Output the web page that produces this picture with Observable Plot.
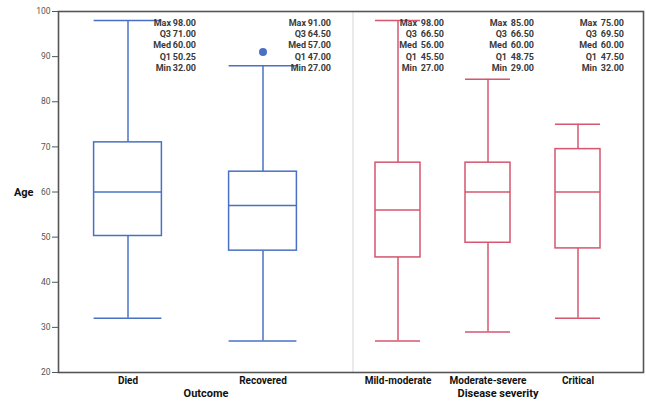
<!DOCTYPE html>
<html>
<head>
<meta charset="utf-8">
<script src="https://cdn.jsdelivr.net/npm/d3@7"></script>
<script src="https://cdn.jsdelivr.net/npm/@observablehq/plot@0.6"></script>
<style>
  html, body { margin: 0; padding: 0; background: #fff; }
  #chart { width: 646px; height: 401px; }
</style>
</head>
<body>
<div id="chart"></div>
<script>
// ---- data ----
const categories = ["Died", "Recovered", "Mild-moderate", "Moderate-severe", "Critical"];
const groups = ["Outcome", "Outcome", "Disease severity", "Disease severity", "Disease severity"];
const minVals = [32, 27, 27, 29, 32];
const q1Vals = [50.25, 47, 45.5, 48.75, 47.5];
const medVals = [60, 57, 56, 60, 60];
const q3Vals = [71, 64.5, 66.5, 66.5, 69.5];
const maxVals = [98, 91, 98, 85, 75];
const whiskerTopVals = [98, 88, 98, 85, 75];
const outlierCats = ["Recovered"];
const outlierVals = [91];
const yTicks = [20, 30, 40, 50, 60, 70, 80, 90, 100];
const statNames = ["Max", "Q3", "Med", "Q1", "Min"];

// ---- layout slots for the x band scale (two groups with a divider) ----
const xSlots = ["Died", "gap1", "gap2", "Recovered", "gap3", "divider",
                "Mild-moderate", "gap4", "Moderate-severe", "gap5", "Critical"];

const rows = categories.map((c, i) => ({
  cat: c, group: groups[i], min: minVals[i], q1: q1Vals[i], med: medVals[i],
  q3: q3Vals[i], max: maxVals[i], wTop: whiskerTopVals[i],
  names: statNames.join("\n"),
  values: [maxVals[i], q3Vals[i], medVals[i], q1Vals[i], minVals[i]].map(v => v.toFixed(2)).join("\n")
}));
const outliers = outlierCats.map((c, i) => ({cat: c, v: outlierVals[i]}));

const blue = "#4a70c4";
const red = "#d4566f";
const FONT = "Roboto, 'Open Sans', sans-serif";

function boxMarks(data, color, inset, nameDx, valueDx) {
  return [
    Plot.ruleX(data, {x: "cat", y1: "q3", y2: "wTop", stroke: color, strokeWidth: 1.5}),
    Plot.ruleX(data, {x: "cat", y1: "min", y2: "q1", stroke: color, strokeWidth: 1.5}),
    Plot.barY(data, {x: "cat", y1: "q1", y2: "q3", fill: "white", stroke: color, strokeWidth: 1.5,
                     insetLeft: inset, insetRight: inset}),
    Plot.tickY(data, {x: "cat", y: "med", stroke: color, strokeWidth: 1.5, insetLeft: inset, insetRight: inset}),
    Plot.tickY(data, {x: "cat", y: "min", stroke: color, strokeWidth: 1.5, insetLeft: inset, insetRight: inset}),
    Plot.tickY(data, {x: "cat", y: "wTop", stroke: color, strokeWidth: 1.5, insetLeft: inset, insetRight: inset}),
    Plot.text(data, {x: "cat", text: "names", frameAnchor: "top", lineAnchor: "top", textAnchor: "end",
                     dx: nameDx, dy: 6, fontSize: 9, fontWeight: "bold", fill: "#3a3a3a", lineHeight: 1.26}),
    Plot.text(data, {x: "cat", text: "values", frameAnchor: "top", lineAnchor: "top", textAnchor: "end",
                     dx: valueDx, dy: 6, fontSize: 9, fontWeight: "bold", fill: "#3a3a3a", lineHeight: 1.26})
  ];
}

const left = rows.filter(d => d.group === "Outcome");
const right = rows.filter(d => d.group === "Disease severity");

const chart = Plot.plot({
  width: 646,
  height: 401,
  marginLeft: 58,
  marginRight: 3,
  marginTop: 11,
  marginBottom: 29,
  style: {fontFamily: FONT, background: "white", overflow: "visible"},
  x: {type: "band", domain: xSlots, paddingInner: 0, paddingOuter: 0.957, align: 0.523},
  y: {domain: [20, 100]},
  marks: [
    Plot.ruleX(["divider"], {x: d => d, stroke: "#dcdcdc", strokeWidth: 1.2}),
    ...boxMarks(left, blue, -11.4, 43, 68),
    ...boxMarks(right, red, 0, 19, 46),
    Plot.dot(outliers, {x: "cat", y: "v", r: 4, fill: blue}),
    Plot.frame({stroke: "#555", strokeWidth: 1.6}),
    Plot.axisY({ticks: yTicks, tickSize: 6, tickPadding: 2, fontSize: 8.5, color: "#555", label: null}),
    Plot.axisX({ticks: categories, tickSize: 0, tickPadding: 4, fontSize: 10, fontWeight: "bold",
                color: "#111", label: null}),
    Plot.text(["Age"], {frameAnchor: "left", dx: -25, textAnchor: "end", fontSize: 11,
                        fontWeight: "bold", fill: "#111"}),
    Plot.text(["Outcome"], {x: () => "gap2", frameAnchor: "bottom", dx: -12, dy: 24,
                            fontSize: 11, fontWeight: "bold", fill: "#111"}),
    Plot.text(["Disease severity"], {x: () => "Moderate-severe", frameAnchor: "bottom", dx: 10, dy: 24,
                                     fontSize: 11, fontWeight: "bold", fill: "#111"})
  ]
});
document.getElementById("chart").appendChild(chart);
</script>
</body>
</html>
